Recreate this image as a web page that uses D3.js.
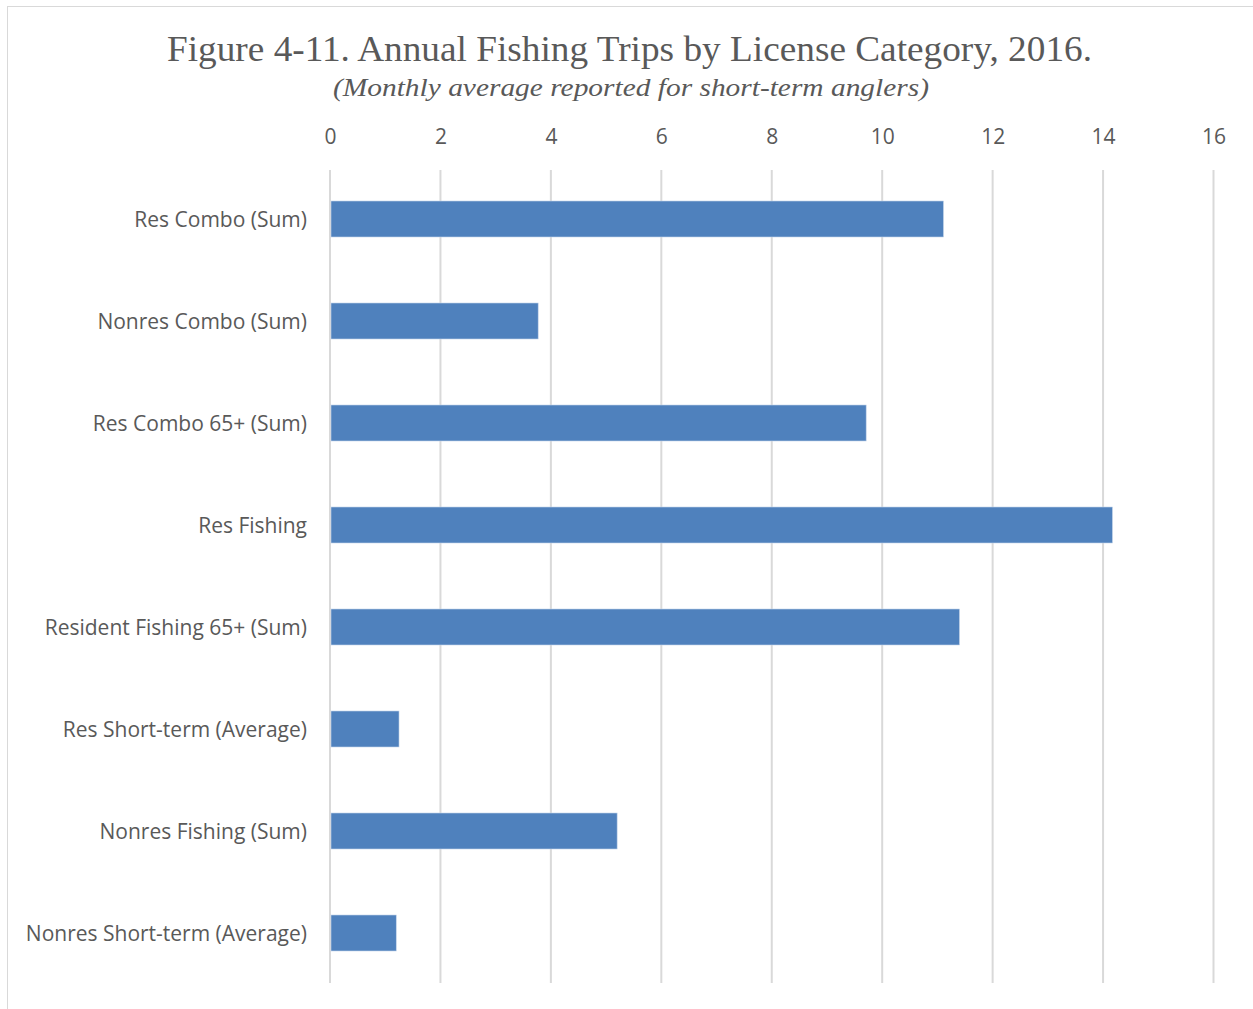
<!DOCTYPE html>
<html>
<head>
<meta charset="utf-8">
<script src="https://cdn.jsdelivr.net/npm/d3@7"></script>
<style>
  html, body { margin: 0; padding: 0; background: #fff; }
  svg { display: block; }
</style>
</head>
<body>
<svg id="chart" width="1253" height="1009"></svg>
<script>
// Annual fishing trips per license category, 2016
const categories = [
  "Res Combo (Sum)",
  "Nonres Combo (Sum)",
  "Res Combo 65+ (Sum)",
  "Res Fishing",
  "Resident Fishing 65+ (Sum)",
  "Res Short-term (Average)",
  "Nonres Fishing (Sum)",
  "Nonres Short-term (Average)"
];
const trips = [11.11, 3.77, 9.71, 14.17, 11.40, 1.25, 5.20, 1.20];
const tickValues = [0, 2, 4, 6, 8, 10, 12, 14, 16];

const titleText = "Figure 4-11. Annual Fishing Trips by License Category, 2016.";
const subtitleText = "(Monthly average reported for short-term anglers)";

const svg = d3.select("#chart");
const W = 1253, H = 1009;
const plot = { left: 330, right: 1213.5, top: 168, bottom: 984 };

// outer frame
svg.append("rect")
  .attr("x", 7.5).attr("y", 6.5)
  .attr("width", W + 10).attr("height", H + 10)
  .attr("fill", "#fff")
  .attr("stroke", "#d9d9d9").attr("stroke-width", 1);

// titles
svg.append("text")
  .attr("x", 167).attr("y", 61)
  .attr("textLength", 925).attr("lengthAdjust", "spacingAndGlyphs")
  .attr("font-family", "'Liberation Serif', 'Times New Roman', serif")
  .attr("font-size", 36)
  .attr("fill", "#595959")
  .text(titleText);

svg.append("text")
  .attr("x", 333).attr("y", 96)
  .attr("textLength", 596).attr("lengthAdjust", "spacingAndGlyphs")
  .attr("font-family", "'Liberation Serif', 'Times New Roman', serif")
  .attr("font-style", "italic")
  .attr("font-size", 26)
  .attr("fill", "#595959")
  .text(subtitleText);

const x = d3.scaleLinear().domain([0, 16]).range([plot.left, plot.right]);
const y = d3.scaleBand().domain(categories).range([plot.top, plot.bottom])
  .paddingInner(0.647).paddingOuter(0.3235);

// vertical gridlines
svg.append("g").selectAll("line")
  .data(tickValues)
  .join("line")
  .attr("x1", d => x(d)).attr("x2", d => x(d))
  .attr("y1", 170).attr("y2", 983)
  .attr("stroke", "#d9d9d9").attr("stroke-width", 2);

// top value axis
const xAxis = svg.append("g")
  .attr("transform", `translate(0, ${plot.top})`)
  .call(d3.axisTop(x).tickValues(tickValues).tickSize(0).tickPadding(24).tickFormat(d3.format("d")));
xAxis.select(".domain").remove();
xAxis.selectAll("text")
  .attr("font-family", "'Open Sans', 'Noto Sans', sans-serif")
  .attr("font-size", 21)
  .attr("fill", "#595959");

// bars
svg.append("g").selectAll("rect")
  .data(categories.map((c, i) => ({ c, v: trips[i] })))
  .join("rect")
  .attr("x", x(0) + 1)
  .attr("y", d => y(d.c))
  .attr("width", d => x(d.v) - x(0) - 1)
  .attr("height", y.bandwidth())
  .attr("fill", "#4f81bd")
  .attr("stroke", "#c5d5ea").attr("stroke-width", 0.6);

// category axis
const yAxis = svg.append("g")
  .attr("transform", `translate(${plot.left}, 1)`)
  .call(d3.axisLeft(y).tickSize(0).tickPadding(23));
yAxis.select(".domain").remove();
yAxis.selectAll("text")
  .attr("font-family", "'Open Sans', 'Noto Sans', sans-serif")
  .attr("font-size", 21)
  .attr("fill", "#595959");
</script>
</body>
</html>
